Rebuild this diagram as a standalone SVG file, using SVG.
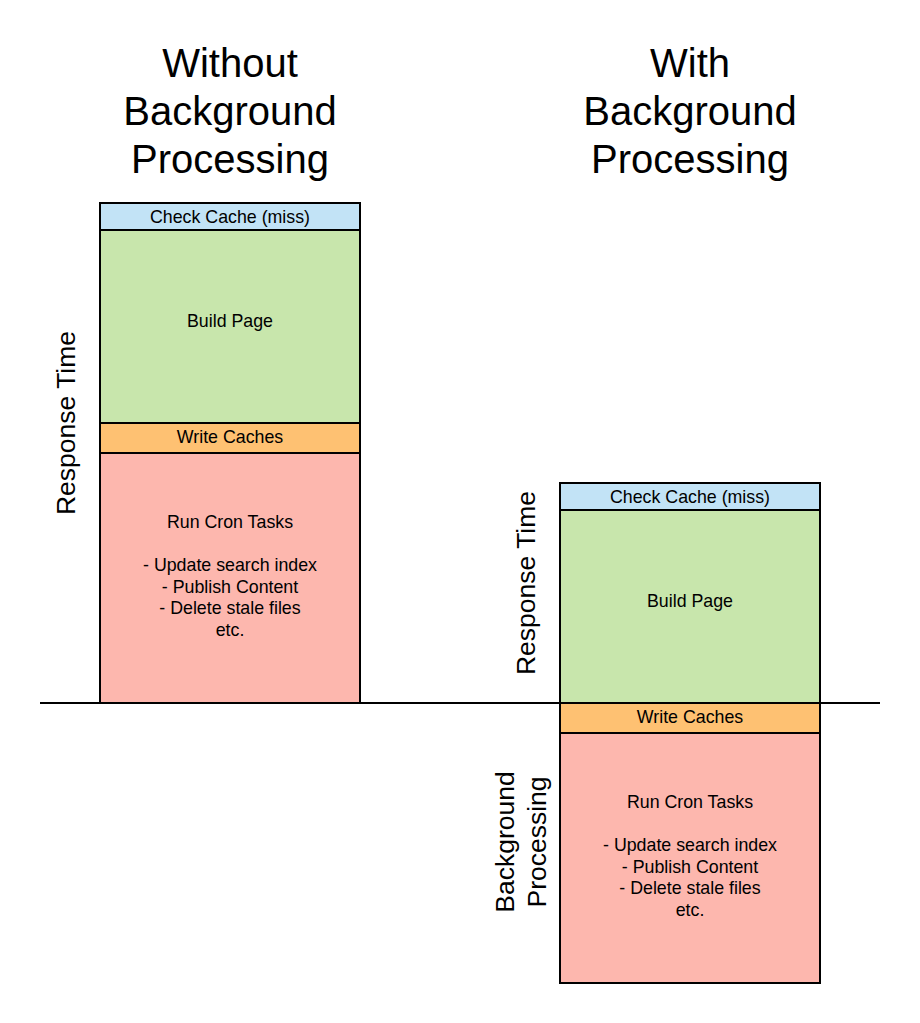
<svg xmlns="http://www.w3.org/2000/svg" width="920" height="1023" viewBox="0 0 920 1023">
<style>
text{font-family:"Liberation Sans",Arial,sans-serif;fill:#000;text-anchor:middle}
.t{font-size:40px}
.s{font-size:17.8px}
.v{font-size:26.5px}
.box{stroke:#000;stroke-width:2}
.blue{fill:#c2e3f6}
.green{fill:#c8e6ac}
.orange{fill:#fec172}
.red{fill:#fdb7ae}
</style>
<rect width="920" height="1023" fill="#fff"/>
<g id="title-left">
<text class="t" x="230" y="77">Without</text>
<text class="t" x="230" y="125">Background</text>
<text class="t" x="230" y="173">Processing</text>
</g>
<g id="title-right">
<text class="t" x="690" y="77">With</text>
<text class="t" x="690" y="125">Background</text>
<text class="t" x="690" y="173">Processing</text>
</g>
<g id="left-check"><rect class="box blue" x="100" y="203" width="260" height="27"/><text class="s" x="230" y="222.5">Check Cache (miss)</text></g>
<g id="left-build"><rect class="box green" x="100" y="230" width="260" height="193"/><text class="s" x="230" y="326.5">Build Page</text></g>
<g id="left-write"><rect class="box orange" x="100" y="423" width="260" height="30"/><text class="s" x="230" y="442.5">Write Caches</text></g>
<g id="left-cron"><rect class="box red" x="100" y="453" width="260" height="250"/>
<text class="s" x="230" y="527.5">Run Cron Tasks</text>
<text class="s" x="230" y="571">- Update search index</text>
<text class="s" x="230" y="592.5">- Publish Content</text>
<text class="s" x="230" y="614">- Delete stale files</text>
<text class="s" x="230" y="635.5">etc.</text></g>
<g id="right-check"><rect class="box blue" x="560" y="483" width="260" height="27"/><text class="s" x="690" y="502.5">Check Cache (miss)</text></g>
<g id="right-build"><rect class="box green" x="560" y="510" width="260" height="193"/><text class="s" x="690" y="606.5">Build Page</text></g>
<g id="right-write"><rect class="box orange" x="560" y="703" width="260" height="30"/><text class="s" x="690" y="722.5">Write Caches</text></g>
<g id="right-cron"><rect class="box red" x="560" y="733" width="260" height="250"/>
<text class="s" x="690" y="807.5">Run Cron Tasks</text>
<text class="s" x="690" y="851">- Update search index</text>
<text class="s" x="690" y="872.5">- Publish Content</text>
<text class="s" x="690" y="894">- Delete stale files</text>
<text class="s" x="690" y="915.5">etc.</text></g>
<g id="connectors"><line x1="40" y1="703" x2="880" y2="703" stroke="#000" stroke-width="2"/></g>
<g id="label-left-rt"><text class="v" transform="translate(75,423) rotate(-90)">Response Time</text></g>
<g id="label-right-rt"><text class="v" transform="translate(535,583) rotate(-90)">Response Time</text></g>
<g id="label-bg"><text class="v" transform="translate(514,842) rotate(-90)">Background</text><text class="v" transform="translate(546,842) rotate(-90)">Processing</text></g>
</svg>
